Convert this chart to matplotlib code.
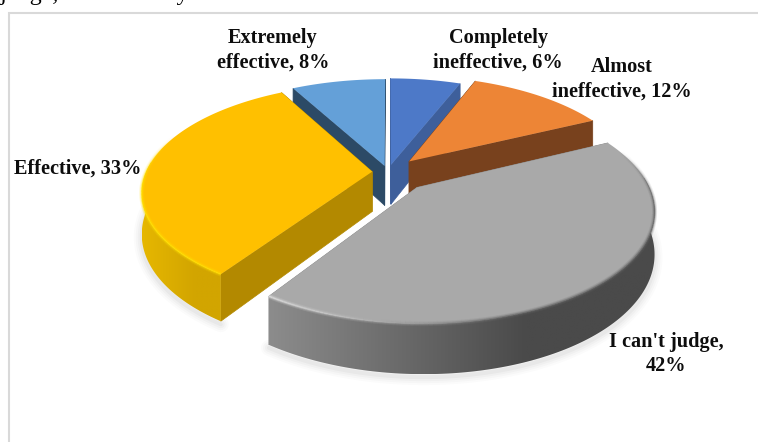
import numpy as np
import matplotlib
matplotlib.use('Agg')
import matplotlib.pyplot as plt
from matplotlib.collections import LineCollection
from matplotlib.colors import to_rgb
from matplotlib.patches import Polygon, Rectangle

categories = ['Completely\nineffective, 6%', 'Almost\nineffective, 12%', "I can't judge,\n42%",
              'Effective, 33%', 'Extremely\neffective, 8%']
values = [6, 12, 42, 33, 8]
explode = [0.07, 0.14, 0.19, 0.07, 0.06]
top_colors = ['#4d79c8', '#ed8536', '#a9a9a9', '#ffc000', '#64a0d8']
cut_colors = ['#3e5f9b', '#78411d', '#8a8a8a', '#b38900', '#2c4a66']
rim_left = ['#4d79c8', '#c06a28', '#8c8c8c', '#e6b700', '#64a0d8']
rim_right = ['#3e5f9b', '#78411d', '#4a4a4a', '#d2a500', '#4f82b0']
bevel_left = ['#4d79c8', '#ed8536', '#e6e6e6', '#ffe100', '#64a0d8']
bevel_right = ['#4d79c8', '#ed8536', '#666666', '#ffdc00', '#64a0d8']
label_pos = [(498, 50), (622, 79), (666, 354), (78, 169), (273, 50)]

# camera
cx, cy = 388, 172
tilt = np.radians(25.3)
D, f, h = 4.92, 1171, 0.18
x_scale, y_scale = 0.95, 1.03


def project(u, v, z=0.0):
    yup = v * np.sin(tilt) + z * np.cos(tilt)
    dist = D + v * np.cos(tilt)
    return cx + x_scale * f * u / dist, cy - y_scale * f * yup / dist


def mix(a, b, t):
    a, b = np.array(to_rgb(a)), np.array(to_rgb(b))
    return a + (b - a) * t


fig = plt.figure(figsize=(7.58, 4.42), dpi=100)
ax = fig.add_axes([0, 0, 1, 1])
ax.axis('off')

# frame
ax.add_patch(Rectangle((9, 13), 760, 440, fc='white', ec='#d9d9d9', lw=1.5, zorder=0))
ax.text(0, 0, 'judge, and that they', family='Liberation Serif', fontsize=17.3, va='baseline', color='black',
        zorder=1, clip_on=True)

edges = np.cumsum([0] + values) / sum(values) * 2 * np.pi


def slice_parts(i):
    a0, a1 = edges[i], edges[i + 1]
    mid = (a0 + a1) / 2
    ox, oy = explode[i] * np.sin(mid), explode[i] * np.cos(mid)
    t = np.linspace(a0, a1, 160)
    return ox, oy, t, ox + np.sin(t), oy + np.cos(t)


# soft shadow under the pie
for i in [2, 3]:
    ox, oy, t, u, v = slice_parts(i)
    keep = v - oy < 0.1
    sx, sy = project(u[keep], v[keep], -h)
    for w, a in [(16, 0.015), (12, 0.02), (8, 0.025), (4, 0.03)]:
        ax.plot(sx, sy + 3, color='black', lw=w * 0.72, alpha=a, solid_capstyle='round', zorder=2)


def draw_slice(i, z):
    ox, oy, t, u, v = slice_parts(i)
    # cut faces
    for a in (edges[i], edges[i + 1]):
        eu, ev = ox + np.sin(a), oy + np.cos(a)
        p = [project(ox, oy), project(eu, ev), project(eu, ev, -h), project(ox, oy, -h)]
        ax.add_patch(Polygon(p, fc=cut_colors[i], ec=cut_colors[i], lw=0.5, zorder=z))
    xs, ys = project(u, v)
    # outer rim, front part only, shaded left to right
    keep = v - oy < 0.1
    if keep.sum() > 1:
        rx, ry = xs[keep], ys[keep]
        bx, by = project(u[keep], v[keep], -h)
        rim = Polygon(np.r_[np.c_[rx, ry], np.c_[bx, by][::-1]], fc='none', ec='none', zorder=z)
        ax.add_patch(rim)
        grad = np.array([mix(rim_left[i], rim_right[i], min(s * 1.5, 1)) for s in np.linspace(0, 1, 256)])[None, :, :]
        im = ax.imshow(grad, extent=(rx.min(), rx.max(), by.max(), ry.min()), aspect='auto', zorder=z,
                       interpolation='bilinear')
        im.set_clip_path(rim)
    # top
    ax.add_patch(Polygon([project(ox, oy)] + list(zip(xs, ys)), fc=top_colors[i], ec='none', zorder=z + 0.2))
    # rounded edge, only on the front of the slice
    pts = np.c_[xs, ys]
    segs = np.stack([pts[:-1], pts[1:]], axis=1)
    side = (xs[:-1] - xs.min()) / max(xs.max() - xs.min(), 1)
    fade = np.clip((0.35 - (v[:-1] - oy)) / 0.5, 0, 1)
    for w, a in [(5, 0.18), (3, 0.3), (1.4, 0.7)]:
        cols = [(*mix(bevel_left[i], bevel_right[i], min(s * 1.6, 1)), a * g) for s, g in zip(side, fade)]
        ax.add_collection(LineCollection(segs, colors=cols, linewidths=w * 0.72, zorder=z + 0.3))


# back to front
for z, i in enumerate([0, 4, 1, 3, 2]):
    draw_slice(i, 3 + z)

for name, (x, y) in zip(categories, label_pos):
    ax.text(x, y, name, family='Liberation Serif', weight='bold', fontsize=14.6, ha='center', va='center',
            linespacing=1.32, color='#0d0d0d', zorder=10)

ax.set_xlim(0, 758)
ax.set_ylim(442, 0)
fig.savefig('out.png', dpi=100)
